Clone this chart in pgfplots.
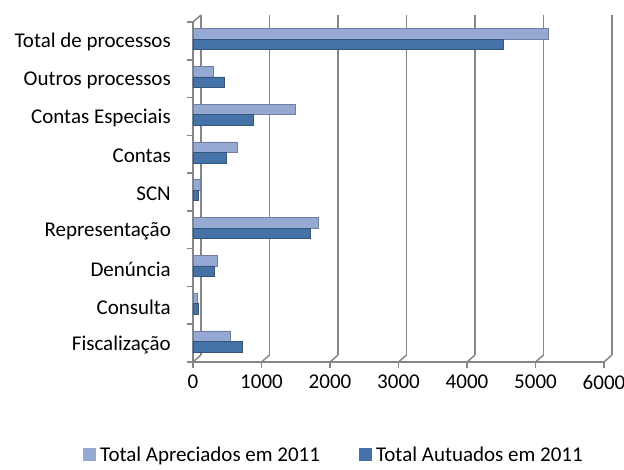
\documentclass[border=0pt]{standalone}
\usepackage{pgfplots}
\pgfplotsset{compat=1.18}
\usepackage{fontspec}
\setmainfont{Carlito}
\definecolor{lightbar}{RGB}{149,169,211}
\definecolor{darkbar}{RGB}{69,114,167}
\definecolor{gridcol}{RGB}{134,134,134}
\pgfplotsset{sqlegend/.style={legend image code/.code={\fill[##1,draw=none] (0pt,-6.5pt) rectangle (13pt,6.5pt);}}}
\begin{document}
\begin{tikzpicture}[x=1pt,y=1pt]
\useasboundingbox (-193,-107) rectangle (431,362);
\begin{axis}[
  scale only axis, width=411pt, height=340pt,
  xmin=0, xmax=6000, ymin=-0.5, ymax=8.5,
  xtick={0,1000,...,6000},
  minor xtick={0,1000,...,6000},
  ytick={0,...,8},
  yticklabels={Fiscalização,Consulta,Denúncia,Representação,SCN,Contas,Contas Especiais,Outros processos,Total de processos},
  minor ytick={-0.5,0.5,...,8.5},
  tick align=outside, major tick length=0pt, minor tick length=5.5pt,
  tick style={gridcol, line width=1.5pt},
  axis lines*=left, axis line style={gridcol, line width=1.5pt},
  xmajorgrids, major grid style={gridcol, line width=1.5pt, xshift=8pt, yshift=7pt},
  tick label style={font=\fontsize{21}{25}\selectfont},
  /pgf/number format/assume math mode=true,
  /pgf/number format/1000 sep={},
  xticklabel style={inner sep=0pt, anchor=north, yshift=-13pt},
  yticklabel style={inner sep=0pt, anchor=east, xshift=-22pt, yshift=-1.5pt},
  clip=false,
  legend columns=2,
  legend style={at={(0.3406,-0.2735)}, anchor=center, draw=none, fill=none,
    font=\fontsize{21}{25}\selectfont, inner sep=0pt,
    nodes={inner sep=0pt, anchor=west},
    column sep=4pt,
    /tikz/every even column/.append style={column sep=39pt}},
]
\addplot[xbar, bar width=10.5pt, bar shift=7pt, fill=lightbar, draw=lightbar!75!black, line width=0.6pt, sqlegend]
  coordinates {(550,0) (60,1) (350,2) (1830,3) (110,4) (640,5) (1500,6) (300,7) (5180,8)};
\addlegendentry{Total Apreciados em 2011}
\addplot[xbar, bar width=10.5pt, bar shift=-3.5pt, fill=darkbar, draw=darkbar!75!black, line width=0.6pt, sqlegend]
  coordinates {(720,0) (80,1) (310,2) (1710,3) (80,4) (490,5) (880,6) (450,7) (4530,8)};
\addlegendentry{Total Autuados em 2011}
\pgfplotsinvokeforeach{0,1000,2000,3000,4000,5000,6000}{
  \draw[gridcol, line width=1.5pt] (axis cs:#1,-0.5) -- ++(8pt,7pt);
}
\draw[gridcol, line width=1.5pt] (axis cs:0,8.5) -- ++(8pt,7pt);
\end{axis}
\end{tikzpicture}
\end{document}
